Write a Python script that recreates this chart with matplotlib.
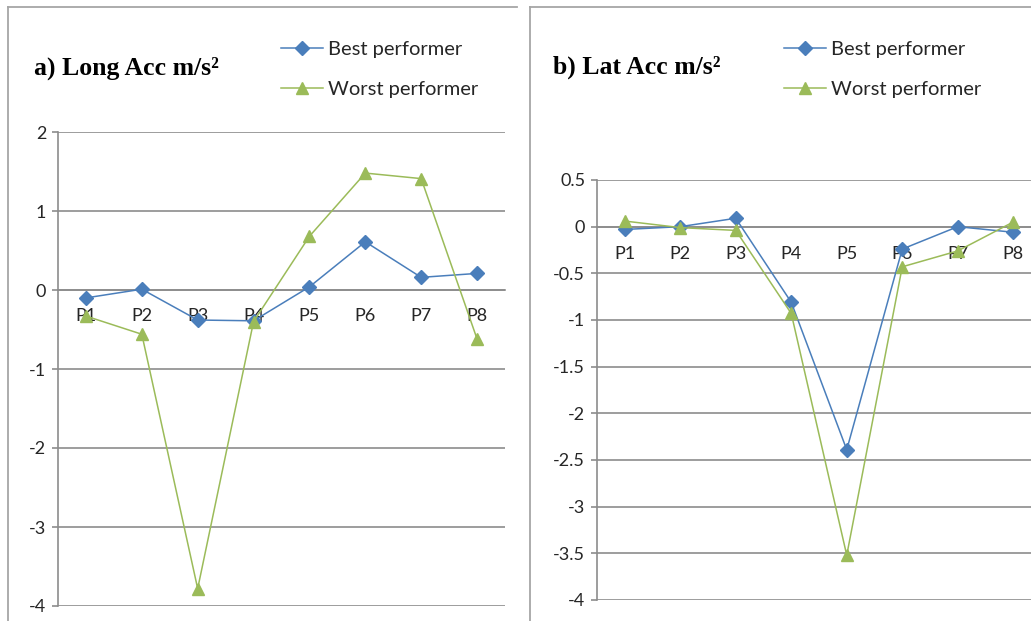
import matplotlib
matplotlib.use("Agg")
import matplotlib.pyplot as plt
from matplotlib.lines import Line2D

categories = ["P1", "P2", "P3", "P4", "P5", "P6", "P7", "P8"]
series_names = ["Best performer", "Worst performer"]

long_best = [-0.10, 0.01, -0.38, -0.39, 0.04, 0.61, 0.16, 0.21]
long_worst = [-0.33, -0.56, -3.78, -0.40, 0.68, 1.48, 1.41, -0.62]

lat_best = [-0.03, 0.00, 0.09, -0.81, -2.39, -0.24, 0.00, -0.06]
lat_worst = [0.06, -0.01, -0.04, -0.93, -3.52, -0.43, -0.26, 0.05]

long_yticks = [2, 1, 0, -1, -2, -3, -4]
lat_yticks = [0.5, 0, -0.5, -1, -1.5, -2, -2.5, -3, -3.5, -4]

BLUE = "#4A7EBB"
GREEN = "#9BBB59"
GRID = "#8C8C8C"
TICKFONT = "Lato"

W, H = 1031, 621
fig = plt.figure(figsize=(W / 100, H / 100), dpi=100)


def px(x0, y0, x1, y1):
    return [x0 / W, 1 - y1 / H, (x1 - x0) / W, (y1 - y0) / H]


def panel(rect, best, worst, yticks, ylim, title, title_xy, legend_xy, label_off):
    ax = fig.add_axes(rect)
    x = list(range(len(categories)))
    ax.plot(x, best, color=BLUE, lw=1.1, marker="D", ms=7.5, label=series_names[0], clip_on=False, zorder=3)
    ax.plot(x, worst, color=GREEN, lw=1.1, marker="^", ms=9, label=series_names[1], clip_on=False, zorder=3)
    ax.set_xlim(-0.5, len(categories) - 0.5)
    ax.set_ylim(*ylim)
    ax.set_yticks(yticks)
    ax.set_yticklabels([f"{v:g}" for v in yticks], fontfamily=TICKFONT, fontsize=13, color="#262626")
    ax.yaxis.grid(True, color=GRID, lw=1.2)
    ax.set_axisbelow(True)
    ax.tick_params(axis="y", length=4.5, width=1.2, color=GRID, pad=4)
    for s in ["top", "right"]:
        ax.spines[s].set_visible(False)
    ax.spines["left"].set_color(GRID)
    ax.spines["left"].set_linewidth(1.2)
    ax.spines["bottom"].set_position(("data", 0))
    ax.spines["bottom"].set_color(GRID)
    ax.spines["bottom"].set_linewidth(1.2)
    ax.set_xticks(x)
    ax.set_xticklabels(categories, fontfamily=TICKFONT, fontsize=13, color="#262626")
    ax.tick_params(axis="x", length=0, pad=label_off)
    fig.text(title_xy[0] / W, 1 - title_xy[1] / H, title, fontfamily="Liberation Serif",
             fontweight="bold", fontsize=18.5, va="center", ha="left")
    ax.legend(loc="upper left", bbox_to_anchor=(legend_xy[0] / W, 1 - legend_xy[1] / H),
              bbox_transform=fig.transFigure, frameon=False, handlelength=2.1,
              handletextpad=0.25, labelspacing=1.17, borderpad=0, borderaxespad=0,
              prop={"family": TICKFONT, "size": 14.5}, labelcolor="#262626")
    return ax


panel(px(58, 132, 505, 606), long_best, long_worst, long_yticks, (-4, 2),
      "a) Long Acc m/s²", (34, 68), (281, 40.5), 13)
panel(px(597, 180, 597 + 8 * 55.5, 600), lat_best, lat_worst, lat_yticks, (-4, 0.5),
      "b) Lat Acc m/s²", (553, 67), (784, 40.5), 14)

# panel borders
border = dict(color="#A6A6A6", lw=1.3, transform=fig.transFigure)
fig.add_artist(Line2D([8 / W, 8 / W], [1 - 7 / H, 0], **border))
fig.add_artist(Line2D([8 / W, 517 / W], [1 - 7 / H, 1 - 7 / H], **border))
fig.add_artist(Line2D([530 / W, 530 / W], [1 - 7 / H, 0], **border))
fig.add_artist(Line2D([530 / W, 1], [1 - 7 / H, 1 - 7 / H], **border))

fig.savefig("out.png", dpi=100)
